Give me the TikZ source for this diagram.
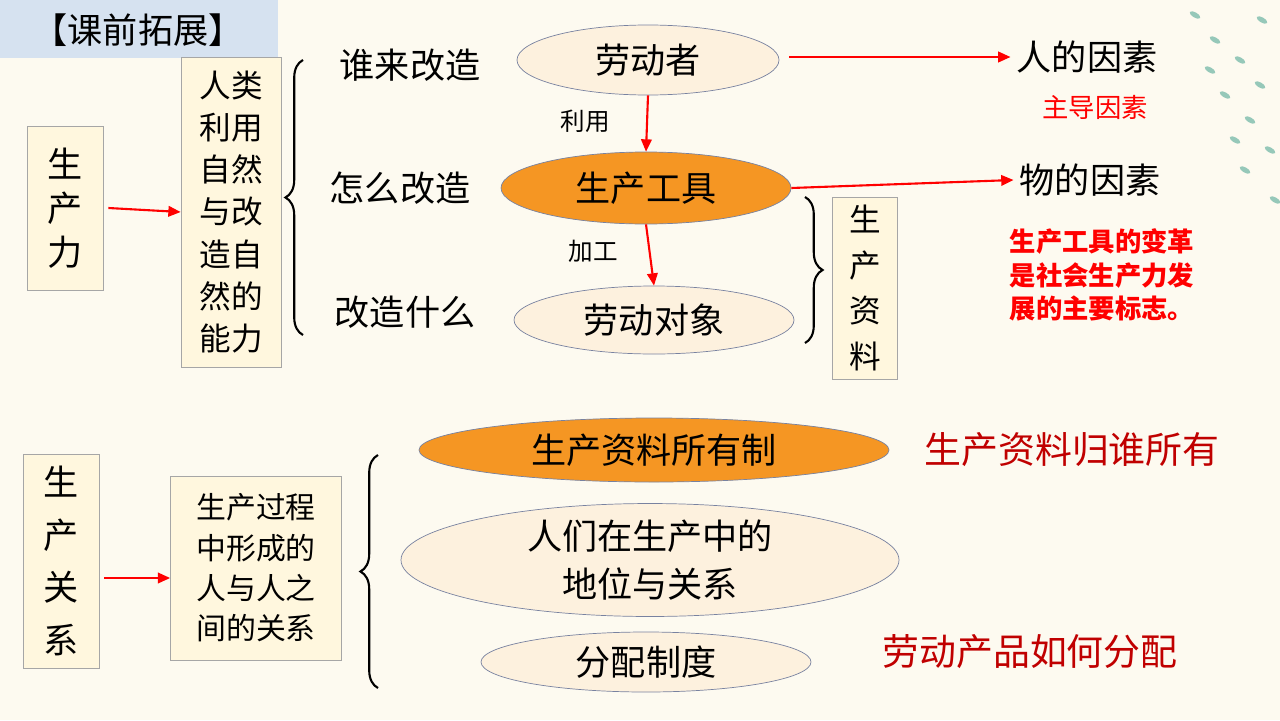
\documentclass[tikz,border=0pt]{standalone}
\usepackage{fontspec}
\setmainfont{Noto Sans CJK SC}
\usetikzlibrary{positioning,shapes,arrows.meta,decorations.pathreplacing}
\definecolor{BgCream}{RGB}{253,250,240}
\definecolor{BoxFill}{RGB}{255,247,222}
\definecolor{OvalFill}{RGB}{253,241,222}
\definecolor{OvalOrange}{RGB}{245,150,35}
\definecolor{OvalLine}{RGB}{120,130,160}
\definecolor{TitleBlue}{RGB}{214,226,240}
\definecolor{DarkRed}{RGB}{192,0,0}
\definecolor{DotTeal}{RGB}{150,200,185}
\begin{document}
\begin{tikzpicture}[x=0.02cm, y=-0.02cm,
    box/.style={rectangle, draw=gray!70, fill=BoxFill, align=center, inner sep=2pt},
    oval/.style={ellipse, draw=OvalLine, fill=OvalFill, inner sep=0pt},
    big/.style={font=\fontsize{20}{25}\selectfont},
    mid/.style={font=\fontsize{18}{22}\selectfont},
    small/.style={font=\fontsize{14}{17}\selectfont},
    note/.style={font=\fontsize{15}{19}\selectfont\bfseries, text=red, align=center},
    arr/.style={-{Triangle[length=7pt,width=6pt]}, red, line width=1.2pt},
    brc/.style={decorate, decoration={brace, amplitude=10pt}, line width=1.2pt}
]
    \fill[BgCream] (0,0) rectangle (1280,720);
    \useasboundingbox (0,0) rectangle (1280,720);
    \fill[TitleBlue] (0,0) rectangle (278,58);
    \node[big] (title) at (138,30) {【课前拓展】};
    % decorative dots
    \foreach \px/\py in {1195/15,1215/40,1240/60,1260/85,1225/95,1250/120,1270/150,1235/140,1262/20,1245/170,1275/200,1210/70}
        \fill[DotTeal, rotate around={60:(\px,\py)}] (\px,\py) ellipse (2.5 and 6);

    % Top part - productivity
    \node[box, big, minimum width=76*0.02cm, minimum height=164*0.02cm] (scl) at (65,208) {生\\产\\力};
    \node[box, big, minimum width=100*0.02cm, minimum height=310*0.02cm,
          font=\fontsize{18}{24}\selectfont] (ability) at (231,212) {人类\\利用\\自然\\与改\\造自\\然的\\能力};
    \draw[arr] (scl.east) ++(5,0) -- (ability.west);
    \coordinate (b1s) at (303,335);
    \coordinate (b1e) at (303,60);
    \draw[brc] (b1s) -- (b1e);
    \node[big] (who) at (410,65) {谁来改造};
    \node[big] (how) at (400,188) {怎么改造};
    \node[big] (what) at (405,312) {改造什么};
    \node[oval, big, minimum width=262*0.02cm, minimum height=70*0.02cm] (worker) at (648,60) {劳动者};
    \node[oval, big, fill=OvalOrange, minimum width=290*0.02cm, minimum height=72*0.02cm] (tool) at (646,188) {生产工具};
    \node[oval, big, minimum width=280*0.02cm, minimum height=68*0.02cm] (object) at (654,320) {劳动对象};
    \draw[arr] (worker.south) -- (tool.north);
    \draw[arr] (tool.south) -- (object.north);
    \node[small] (use) at (585,121) {利用};
    \node[small] (process) at (593,251) {加工};
    \node[big] (human) at (1087,57) {人的因素};
    \node[note, font=\fontsize{15}{19}\selectfont] (lead) at (1095,107) {主导因素};
    \node[big] (thing) at (1090,180) {物的因素};
    \node[note] (mark) at (1102,275) {生产工具的变革\\是社会生产力发\\展的主要标志。};
    \draw[arr] (worker.east) ++(10,-3) -- (human.west);
    \draw[arr] (tool.east) -- (thing.west);
    \coordinate (b2s) at (805,197);
    \coordinate (b2e) at (805,343);
    \draw[brc] (b2s) -- (b2e);
    \node[box, mid, minimum width=65*0.02cm, minimum height=182*0.02cm,
          font=\fontsize{18}{26}\selectfont] (means) at (865,288) {生\\产\\资\\料};

    % Bottom part - relations of production
    \node[box, big, minimum width=76*0.02cm, minimum height=214*0.02cm,
          font=\fontsize{20}{30}\selectfont] (rel) at (61,561) {生\\产\\关\\系};
    \node[box, font=\fontsize{17}{23}\selectfont, minimum width=171*0.02cm, minimum height=184*0.02cm] (between) at (256,568) {生产过程\\中形成的\\人与人之\\间的关系};
    \draw[arr] (rel.east) ++(5,17) -- (between.west |- 0,578);
    \coordinate (b3s) at (378,688);
    \coordinate (b3e) at (378,455);
    \draw[brc] (b3s) -- (b3e);
    \node[oval, big, fill=OvalOrange, minimum width=470*0.02cm, minimum height=64*0.02cm] (own) at (654,450) {生产资料所有制};
    \node[oval, big, align=center, minimum width=498*0.02cm, minimum height=110*0.02cm,
          font=\fontsize{20}{27}\selectfont] (status) at (650,560) {人们在生产中的\\地位与关系};
    \node[oval, big, minimum width=330*0.02cm, minimum height=60*0.02cm] (dist) at (646,662) {分配制度};
    \node[font=\fontsize{21}{25}\selectfont, text=DarkRed] (whose) at (1072,450) {生产资料归谁所有};
    \node[font=\fontsize{21}{25}\selectfont, text=DarkRed] (how2) at (1030,652) {劳动产品如何分配};
\end{tikzpicture}
\end{document}
